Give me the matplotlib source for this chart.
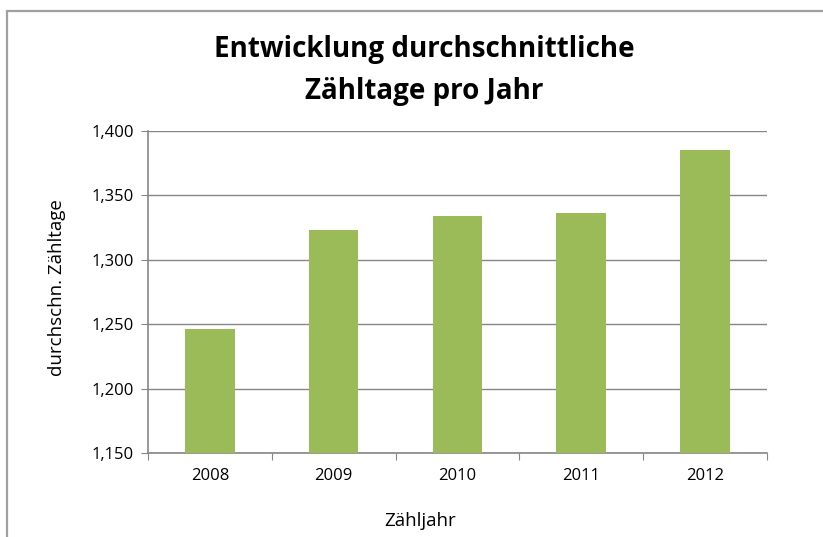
import matplotlib
matplotlib.use("Agg")
import matplotlib.pyplot as plt
from matplotlib.patches import Rectangle
from matplotlib.ticker import FuncFormatter

years = ["2008", "2009", "2010", "2011", "2012"]
values = [1.246, 1.323, 1.334, 1.336, 1.385]
yticks = [1.15, 1.20, 1.25, 1.30, 1.35, 1.40]

plt.rcParams['font.family'] = ['Open Sans', 'DejaVu Sans']

fig = plt.figure(figsize=(8.23, 5.37), dpi=100)
ax = fig.add_axes([0.1798, 0.1564, 0.752, 0.5996])

# outer chart frame
fig.patches.append(Rectangle((7 / 823, -0.05), 1.0, (526 / 537) + 0.05,
                             transform=fig.transFigure, fill=False,
                             edgecolor='#a0a0a0', linewidth=1.6))

x = range(len(years))
ax.bar(x, values, width=0.4, color='#9bbb59', zorder=3)

ax.set_xlim(-0.5, len(years) - 0.5)
ax.set_ylim(1.15, 1.40)
ax.set_yticks(yticks)
ax.yaxis.set_major_formatter(FuncFormatter(lambda v, p: f"{v:.3f}".replace(".", ",")))
ax.set_xticks([i - 0.5 for i in range(len(years) + 1)], minor=False)
ax.set_xticklabels([])
ax.set_xticks(list(x), minor=True)
ax.set_xticklabels(years, minor=True)
ax.tick_params(axis='x', which='minor', length=0, pad=11, labelsize=12)
ax.tick_params(axis='x', which='major', length=5, color='#868686')
ax.tick_params(axis='y', length=5, color='#868686', labelsize=12, pad=5)

ax.grid(axis='y', color='#868686', linewidth=1, zorder=0)
for side in ['top', 'right']:
    ax.spines[side].set_visible(False)
for side in ['left', 'bottom']:
    ax.spines[side].set_color('#868686')
    ax.spines[side].set_linewidth(1.2)

ax.set_xlabel("Zähljahr", fontsize=13.5, va='center')
ax.xaxis.set_label_coords(0.44, -0.211)
ax.set_ylabel("durchschn. Zähltage", fontsize=13.5, va='center')
ax.yaxis.set_label_coords(-0.147, 0.515)

fig.text(0.516, 0.869, "Entwicklung durchschnittliche\nZähltage pro Jahr",
         ha='center', va='center', fontsize=20, fontweight='bold',
         linespacing=1.6)

fig.savefig("out.png", dpi=100)
